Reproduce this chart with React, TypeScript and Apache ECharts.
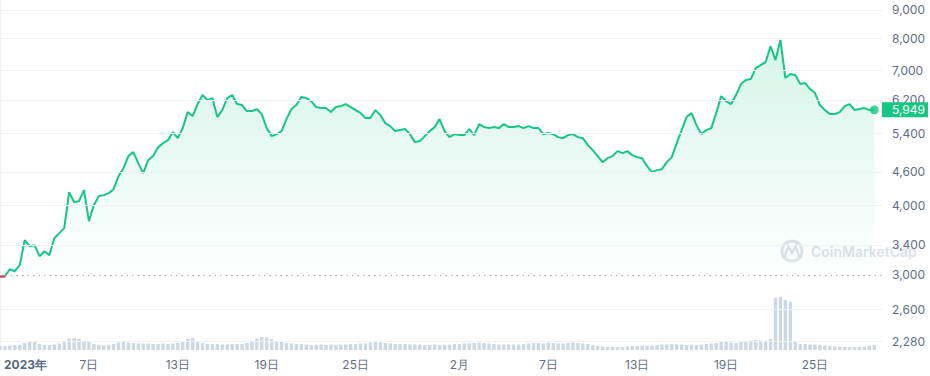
import React, { useEffect, useRef } from 'react';
import * as echarts from 'echarts';

// price samples every 8 hours starting 2023-01-01 00:00
const prices: number[] = [
  2978, 2985, 3072, 3047, 3124, 3465, 3380, 3394, 3243, 3310,
  3256, 3494, 3568, 3643, 4228, 4058, 4074, 4264, 3749, 4007,
  4160, 4177, 4211, 4281, 4519, 4671, 4911, 4993, 4769, 4576,
  4829, 4911, 5095, 5182, 5247, 5425, 5290, 5515, 5894, 5797,
  6093, 6325, 6195, 6246, 5773, 5943, 6246, 6325, 6093, 6068,
  5919, 5919, 5968, 5845, 5515, 5335, 5379, 5447, 5725, 5968,
  6068, 6272, 6246, 6170, 6018, 5993, 5993, 5894, 6018, 6043,
  6093, 6018, 5943, 5870, 5749, 5749, 5943, 5821, 5630, 5561,
  5447, 5470, 5493, 5379, 5204, 5226, 5335, 5447, 5538, 5725,
  5447, 5313, 5379, 5357, 5357, 5493, 5357, 5607, 5538, 5515,
  5538, 5515, 5607, 5538, 5538, 5561, 5515, 5561, 5515, 5515,
  5379, 5402, 5379, 5313, 5290, 5357, 5379, 5313, 5290, 5140,
  5034, 4911, 4790, 4869, 4911, 5013, 4972, 5013, 4931, 4890,
  4869, 4710, 4595, 4633, 4652, 4790, 4890, 5182, 5470, 5773,
  5870, 5584, 5379, 5470, 5515, 5870, 6297, 6170, 6093, 6325,
  6620, 6731, 6759, 7074, 7163, 7253, 7745, 7313, 7946, 6786,
  6901, 6872, 6620, 6648, 6484, 6377, 6068, 5943, 5845, 5845,
  5894, 6043, 6093, 5943, 5968, 5993, 5943, 5949,
];

const volumes: number[] = [
  4, 4, 4.5, 5, 5, 7, 8, 8, 6, 5,
  5, 5.5, 6.5, 9, 11.5, 12, 11, 9, 8, 6,
  5, 4.5, 5, 6, 7.5, 8, 7.5, 7, 6.5, 6.5,
  6.5, 6, 6, 6.5, 6, 6.5, 7, 9, 11, 12,
  9, 7, 6, 6, 6, 5.5, 5.5, 6, 6, 6,
  7, 9, 11.5, 13, 12.5, 11, 9, 8, 7, 6.5,
  6, 6, 5.5, 5, 5, 5.5, 5, 5.5, 5, 5.5,
  5.5, 6, 6, 6.5, 6.5, 7.5, 8, 7.5, 7, 6.5,
  6, 6, 6, 5.5, 5.5, 5.5, 5, 5, 5.5, 5,
  5, 5.5, 6, 6, 6.5, 6.5, 7, 7.5, 7, 6.5,
  6, 5.5, 5.5, 5.5, 5.5, 5.5, 6, 6.5, 7, 7,
  6.5, 7.5, 7, 6.5, 6.5, 7, 7.5, 7, 6.5, 6,
  5, 4, 3.5, 3, 3, 3, 3, 3.5, 4, 4,
  4.5, 4.5, 4.5, 5, 5.5, 5.5, 6, 5.5, 5.5, 5,
  5, 5, 5.5, 6, 6.5, 7, 8, 8.5, 7.5, 7,
  8, 9, 9.5, 10, 9.5, 9.5, 11, 52, 53, 50,
  48, 8, 6, 6, 5.5, 5.5, 5, 4.5, 4, 3.5,
  3, 3, 3, 3, 3, 3.5, 4.5, 5,
];

const stepDays = 1 / 3; // 8-hour sampling
const tickDays = [0, 6, 12, 18, 24, 31, 37, 43, 49, 55];
const tickLabels = ['2023年', '7日', '13日', '19日', '25日', '2月', '7日', '13日', '19日', '25日'];
const priceLevels = [9000, 8000, 7000, 6200, 5400, 4600, 4000, 3400, 2600, 2280];
const openPrice = 3000;

export default function App() {
  const ref = useRef<HTMLDivElement>(null);

  useEffect(() => {
    document.body.style.margin = '0';
    if (!ref.current) return;
    const chart = echarts.init(ref.current, null, { renderer: 'svg' });

    const days = prices.map((_, i) => i * stepDays);
    const priceData = prices.map((p, i) => [days[i], p]);
    const belowOpen = priceData.filter((p) => p[1] < openPrice);
    const volData = volumes.map((v, i) => [days[i], v]);
    const last = priceData[priceData.length - 1];
    const fmt = (v: number) => v.toLocaleString('en-US');
    const labelColor = '#616e85';
    const font = 'Inter';
    const green = '#16c784';

    const gridLines: any[] = priceLevels.map((v) => ({
      yAxis: v,
      lineStyle: { color: '#eff2f5', type: 'solid', width: 1 },
      label: {
        show: true, position: 'end', distance: 10, formatter: fmt(v),
        color: labelColor, fontSize: 12, fontFamily: font,
      },
    }));
    gridLines.push({
      yAxis: openPrice,
      lineStyle: { color: '#a3acb9', type: [1.5, 4], width: 1.2 },
      label: {
        show: true, position: 'end', distance: 10, formatter: fmt(openPrice),
        color: labelColor, fontSize: 12, fontFamily: font,
      },
    });
    const badge = {
      yAxis: last[1],
      lineStyle: { color: 'rgba(255,255,255,0)', width: 0.01 },
      label: {
        show: true, position: 'end', distance: 0, formatter: fmt(last[1]),
        color: '#ffffff', fontSize: 12, fontFamily: font,
        backgroundColor: green, padding: [2, 3, 1, 10],
      },
    };

    const xMax = 59.52;
    const wmColor = '#dde2e9';

    chart.setOption({
      animation: false,
      grid: [
        { left: -1.8, right: 48, top: 0, bottom: 26 },
        { left: -1.8, right: 48, top: 290, bottom: 26 },
      ],
      xAxis: [
        {
          type: 'value', gridIndex: 0, min: 0, max: xMax,
          axisLine: { show: false }, axisTick: { show: false }, splitLine: { show: false },
          axisLabel: {
            customValues: tickDays,
            alignMinLabel: 'left',
            margin: 8,
            color: labelColor, fontSize: 12, fontFamily: font,
            formatter: (val: number) => {
              const idx = tickDays.indexOf(Math.round(val));
              const t = idx >= 0 ? tickLabels[idx] : '';
              return idx === 0 ? '{b|' + t + '}' : t;
            },
            rich: {
              b: { fontWeight: 'bold', color: '#58667e', fontSize: 12, fontFamily: font, padding: [0, 0, 0, 4] },
            },
          },
        },
        {
          type: 'value', gridIndex: 1, min: 0, max: xMax, show: false,
        },
      ],
      yAxis: [
        {
          type: 'log', gridIndex: 0, min: 2198, max: 9380, position: 'right',
          axisLine: { show: true, lineStyle: { color: '#eff2f5' } },
          axisTick: { show: false }, axisLabel: { show: false }, splitLine: { show: false },
        },
        {
          type: 'value', gridIndex: 1, min: 0, max: 60, show: false,
        },
      ],
      graphic: [
        { type: 'circle', shape: { cx: 792, cy: 251, r: 10 }, style: { fill: 'none', stroke: wmColor, lineWidth: 3 }, z: 0 },
        { type: 'polyline', shape: { points: [[785, 256], [788.5, 246], [792, 253], [795.5, 246], [799, 256]] }, style: { fill: 'none', stroke: wmColor, lineWidth: 2.5 }, z: 0 },
        { type: 'text', x: 811, y: 251, style: { text: 'CoinMarketCap', font: '600 14px Inter', fill: wmColor, verticalAlign: 'middle' }, z: 0 },
      ],
      series: [
        {
          type: 'line', xAxisIndex: 0, yAxisIndex: 0, data: priceData,
          showSymbol: false, z: 3,
          lineStyle: { width: 2, color: green },
          areaStyle: {
            color: new echarts.graphic.LinearGradient(0, 0, 0, 280, [
              { offset: 0, color: 'rgba(22,199,132,0.30)' },
              { offset: 1, color: 'rgba(22,199,132,0)' },
            ], true),
          },
        },
        {
          type: 'line', xAxisIndex: 0, yAxisIndex: 0, data: belowOpen,
          showSymbol: false, z: 4,
          lineStyle: { width: 2, color: '#ea3943' },
        },
        {
          type: 'line', xAxisIndex: 0, yAxisIndex: 0, data: priceData,
          showSymbol: false, z: 1, silent: true,
          lineStyle: { opacity: 0 },
          markLine: {
            silent: true, symbol: ['none', 'none'], animation: false,
            data: gridLines,
          },
        },
        {
          type: 'line', xAxisIndex: 0, yAxisIndex: 0, data: [last],
          showSymbol: false, z: 6, silent: true,
          lineStyle: { opacity: 0 },
          markLine: {
            silent: true, symbol: ['none', 'none'], animation: false,
            data: [badge],
          },
        },
        {
          type: 'bar', xAxisIndex: 1, yAxisIndex: 1, data: volData,
          barWidth: 3.4, z: 2,
          itemStyle: { color: '#cfd6e4' },
        },
        {
          type: 'scatter', xAxisIndex: 0, yAxisIndex: 0, data: [last],
          symbolSize: 9, z: 5,
          itemStyle: { color: green },
        },
      ],
    });

    return () => chart.dispose();
  }, []);

  return <div ref={ref} style={{ position: 'absolute', left: 0, top: 0, width: 930, height: 376 }} />;
}
